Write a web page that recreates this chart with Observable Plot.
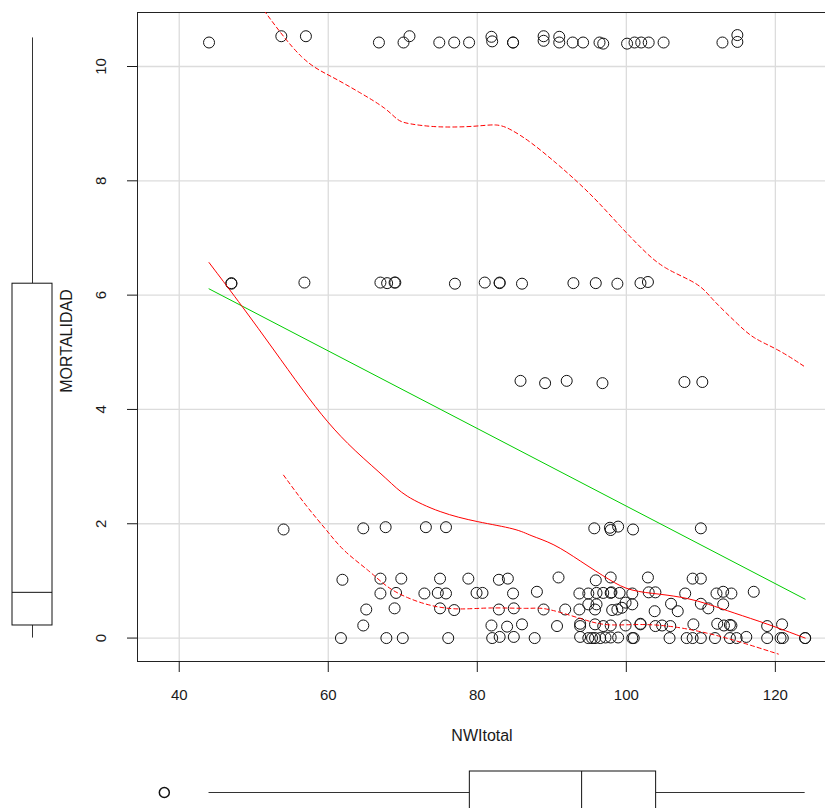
<!DOCTYPE html>
<html><head><meta charset="utf-8">
<script src="https://cdn.jsdelivr.net/npm/d3@7"></script>
<script src="https://cdn.jsdelivr.net/npm/@observablehq/plot@0.6"></script>
<style>
body{margin:0;background:#fff;}
#wrap{position:relative;width:825px;height:808px;overflow:hidden;background:#fff;font-family:"Liberation Sans",Arial,sans-serif;}
#wrap svg{position:absolute;left:0;max-width:none;}
</style></head><body><div id="wrap"></div>
<script>
// ---- data ----
const xTicks = [40, 60, 80, 100, 120];
const yTicks = [0, 2, 4, 6, 8, 10];

const nwi = [
  44,53.7,57,66.8,70.1,70.9,74.9,76.9,78.9,81.9,82,84.8,84.8,88.9,88.9,91,91,92.8,94.2,96.4,96.9,100.1,101.1,102,103,105,112.9,114.9,114.9,
  47,47,56.8,67,67.9,68.9,69,77,81,83,83,86,92.9,95.9,98.8,101.9,102.9,
  85.8,89.1,92,96.8,107.8,110.2,
  54,64.7,67.7,73.1,75.8,95.7,97.8,97.9,98.9,100.9,110,
  61.9,67,69.8,75,78.8,82.9,84.1,90.9,95.9,97.9,102.9,108.9,110,
  67,69.1,72.9,74.7,75.8,79.9,80.7,84.8,88,93.7,94.9,96,96.9,97.9,98,99.1,100.8,103,103.9,107.9,112.1,113,114.1,117.1,
  65.1,68.9,75,76.9,82.9,84.9,88.9,91.8,93.7,94.9,95.8,96,98.1,98.8,99.4,99.9,100.8,103.8,106,106.9,110,111,113,
  64.7,81.9,84,86,90.7,93.8,93.8,95.8,96.9,97.9,99.9,101.9,101.9,103.9,104.8,105.9,109,112.2,113.1,113.9,114.1,118.9,120.9,
  61.7,67.8,70,76.1,82,83,84.9,87.7,93.8,94.9,95.4,95.8,96.5,97.2,97.9,98.9,100.8,101,105.8,108.1,108.9,110,111.9,113.9,114.8,116.1,118.9,120.7,121,124,124
];
const mortalidad = [
  10.42,10.53,10.53,10.42,10.42,10.53,10.42,10.42,10.42,10.52,10.44,10.42,10.42,10.53,10.45,10.52,10.42,10.42,10.42,10.42,10.40,10.40,10.42,10.42,10.42,10.42,10.42,10.55,10.43,
  6.2,6.21,6.22,6.22,6.21,6.22,6.22,6.2,6.22,6.22,6.21,6.2,6.21,6.21,6.2,6.21,6.23,
  4.50,4.46,4.50,4.46,4.48,4.48,
  1.90,1.92,1.94,1.94,1.94,1.92,1.93,1.89,1.95,1.90,1.92,
  1.02,1.04,1.04,1.04,1.04,1.02,1.04,1.06,1.01,1.06,1.06,1.04,1.04,
  0.78,0.79,0.78,0.79,0.78,0.79,0.79,0.78,0.81,0.78,0.78,0.79,0.79,0.79,0.80,0.79,0.78,0.80,0.80,0.78,0.78,0.81,0.78,0.81,
  0.50,0.52,0.52,0.49,0.50,0.52,0.50,0.50,0.50,0.59,0.50,0.59,0.49,0.50,0.53,0.62,0.59,0.47,0.60,0.47,0.60,0.52,0.59,
  0.22,0.22,0.20,0.24,0.21,0.25,0.21,0.24,0.21,0.22,0.22,0.25,0.24,0.21,0.22,0.21,0.24,0.25,0.22,0.23,0.22,0.21,0.24,
  0,0,0,0,0,0.02,0.02,0,0.02,0,0,0,0,0.01,0.01,0.01,0,0,0,0,0,0,0,0,0,0.02,0,0,0,0,0
];

// linear fit
const regX = [44, 124];
const regY = [6.11, 0.68];
// smoother (solid) and spread (dashed)
const loessX = [44,48.6,52.6,56.6,59.9,63.4,68.2,70.1,75,80,85.4,87.1,90.2,93.8,97.9,100.5,104.6,108.2,110.9,114.4,118.9,124];
const loessY = [6.57,5.78,5.06,4.33,3.77,3.29,2.75,2.49,2.19,2.03,1.91,1.79,1.66,1.35,1.00,0.82,0.77,0.70,0.60,0.44,0.25,0.0];
const upperX = [44,48,51.5,56.6,60.3,64.3,67.9,69.3,70.6,74.6,80,82.7,84.4,87.1,90.7,93.4,96.1,99.2,102.3,105,109.9,111.3,114.9,117,120.3,123.8];
const upperY = [12.4,11.6,10.95,10.07,9.84,9.54,9.26,9.05,9.00,8.93,8.95,9.00,8.91,8.69,8.30,7.99,7.65,7.2,6.78,6.46,6.20,5.95,5.50,5.24,5.06,4.76];
const lowerX = [54,57.2,59.9,62,65.6,67.9,70.6,73.7,77.3,81.7,87.1,88.5,91.5,94.8,97.4,101.9,106.3,110.9,114.9,120.4];
const lowerY = [2.85,2.28,1.87,1.52,1.17,0.88,0.70,0.56,0.49,0.54,0.51,0.54,0.44,0.30,0.21,0.25,0.21,0.09,-0.05,-0.28];

// marginal boxplots: [whiskerLow, Q1, median, Q3, whiskerHigh]
const yBoxStats = [0, 0.22, 0.8, 6.2, 10.5];
const xBoxStats = [44, 79, 94, 104, 124];
const xOutliers = [38];

// ---- build ----
const xDomain = [34.4, 127.4];
const yDomain = [-0.41, 10.945];
const font = '"Liberation Sans", Arial, sans-serif';
const ink = "#1a1a1a";

const points = nwi.map((x, i) => ({x, y: mortalidad[i]}));
const toXY = (xs, ys) => xs.map((x, i) => ({x, y: ys[i]}));

const main = Plot.plot({
  width: 830, height: 808,
  marginLeft: 137, marginRight: 0, marginTop: 12, marginBottom: 147,
  x: {domain: xDomain},
  y: {domain: yDomain},
  style: {fontFamily: font, fontSize: "15px", color: ink, background: "transparent"},
  marks: [
    Plot.gridX(xTicks, {stroke: "#dcdcdc", strokeOpacity: 1, strokeWidth: 1.3}),
    Plot.gridY(yTicks, {stroke: "#dcdcdc", strokeOpacity: 1, strokeWidth: 1.3}),
    Plot.frame({stroke: "#222"}),
    Plot.axisX(xTicks, {tickSize: 11, tickPadding: 17, fontSize: 15, label: null}),
    Plot.axisY(yTicks, {tickSize: 10, tickFormat: () => "", label: null}),
    Plot.text(yTicks, {y: d => d, text: d => String(d), frameAnchor: "left", textAnchor: "middle", dx: -36, rotate: -90, fontSize: 15, fill: ink}),
    Plot.text(["MORTALIDAD"], {frameAnchor: "left", textAnchor: "middle", dx: -71, dy: 4, rotate: -90, fontSize: 16, fill: ink}),
    Plot.text(["NWItotal"], {frameAnchor: "bottom", dx: -2, dy: 79, fontSize: 16, fill: ink}),
    Plot.dot(points, {x: "x", y: "y", r: 5.5, stroke: "#111", fill: "none", strokeWidth: 1}),
    Plot.line(toXY(regX, regY), {x: "x", y: "y", stroke: "#00cd00", strokeWidth: 1}),
    Plot.line(toXY(loessX, loessY), {x: "x", y: "y", stroke: "#ff0000", strokeWidth: 1, curve: "basis"}),
    Plot.line(toXY(upperX, upperY), {x: "x", y: "y", stroke: "#ff0000", strokeWidth: 1, strokeDasharray: "4,3", curve: "basis", clip: true}),
    Plot.line(toXY(lowerX, lowerY), {x: "x", y: "y", stroke: "#ff0000", strokeWidth: 1, strokeDasharray: "4,3", curve: "basis", clip: true})
  ]
});

const yb = {lo: yBoxStats[0], q1: yBoxStats[1], med: yBoxStats[2], q3: yBoxStats[3], hi: yBoxStats[4], k: "MORTALIDAD"};
const left = Plot.plot({
  width: 60, height: 808,
  marginLeft: 12, marginRight: 8, marginTop: 12, marginBottom: 147,
  x: {type: "band", domain: ["MORTALIDAD"], padding: 0, axis: null},
  y: {domain: yDomain, axis: null},
  style: {background: "transparent"},
  marks: [
    Plot.ruleX([yb], {x: "k", y1: "lo", y2: "q1", stroke: "#333"}),
    Plot.ruleX([yb], {x: "k", y1: "q3", y2: "hi", stroke: "#333"}),
    Plot.barY([yb], {x: "k", y1: "q1", y2: "q3", fill: "white", stroke: "#111"}),
    Plot.tickY([yb], {x: "k", y: "med", stroke: "#111"})
  ]
});

const xb = {lo: xBoxStats[0], q1: xBoxStats[1], med: xBoxStats[2], q3: xBoxStats[3], hi: xBoxStats[4], k: "NWItotal"};
const bottom = Plot.plot({
  width: 830, height: 60,
  marginLeft: 137, marginRight: 0, marginTop: 11, marginBottom: 7,
  x: {domain: xDomain, axis: null},
  y: {type: "band", domain: ["NWItotal"], padding: 0, axis: null},
  style: {background: "transparent"},
  marks: [
    Plot.ruleY([xb], {y: "k", x1: "lo", x2: "q1", stroke: "#333"}),
    Plot.ruleY([xb], {y: "k", x1: "q3", x2: "hi", stroke: "#333"}),
    Plot.barX([xb], {y: "k", x1: "q1", x2: "q3", fill: "white", stroke: "#111"}),
    Plot.tickX([xb], {y: "k", x: "med", stroke: "#111"}),
    Plot.dot(xOutliers, {x: d => d, y: () => "NWItotal", r: 5, stroke: "#111", fill: "none"})
  ]
});

const wrap = document.getElementById("wrap");
[main, left, bottom].forEach(s => { s.style.maxWidth = "none"; });
main.style.top = "0px";
left.style.top = "0px";
bottom.style.top = "760px";
wrap.appendChild(main);
wrap.appendChild(left);
wrap.appendChild(bottom);
</script>
</body></html>
